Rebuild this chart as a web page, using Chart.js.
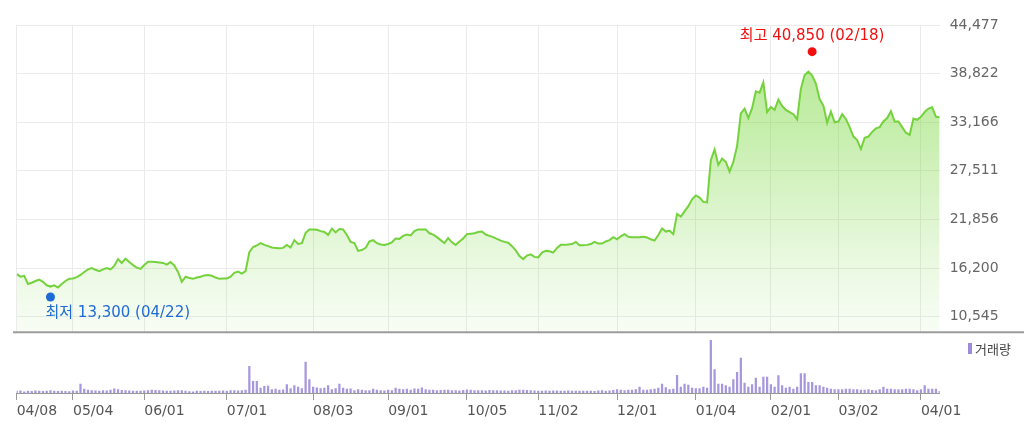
<!DOCTYPE html>
<html><head><meta charset="utf-8">
<script src="https://cdn.jsdelivr.net/npm/chart.js@4/dist/chart.umd.min.js"></script>
<style>
html,body{margin:0;padding:0;background:#fff;width:1024px;height:427px;overflow:hidden}
#price{position:absolute;left:0;top:0}
#vol{position:absolute;left:0;top:331px}
</style></head><body>
<canvas id="price" width="1024" height="334"></canvas>
<canvas id="vol" width="1024" height="96"></canvas>
<script>
// ---- data (trading-day index 0 = 04/08) ----
const closes = [
15500,15200,15300,14350,14500,14700,14850,14600,14200,14050,
14200,13950,14350,14700,14950,15000,15150,15400,15750,16050,
16200,16000,15850,16050,16200,16050,16450,17250,16800,17300,
16900,16550,16250,16100,16550,16950,16950,16900,16850,16800,
16600,16900,16500,15750,14600,15200,15050,14950,15100,15200,
15350,15400,15300,15100,14950,15000,15000,15200,15650,15800,
15550,15850,18050,18650,18850,19100,18900,18750,18600,18550,
18500,18550,18900,18600,19450,19000,19100,20300,20700,20700,
20650,20500,20400,20050,20800,20350,20750,20700,20050,19250,
19100,18200,18300,18550,19300,19450,19100,18950,18900,19000,
19200,19650,19600,19950,20100,20000,20500,20700,20700,20700,
20250,20100,19800,19450,19100,19700,19200,18900,19300,19650,
20150,20200,20250,20400,20450,20100,19950,19800,19600,19400,
19250,19150,18750,18250,17600,17250,17650,17800,17500,17450,
18000,18200,18150,18000,18550,18900,18900,18950,19000,19250,
18850,18850,18900,19000,19250,19050,19050,19300,19450,19800,
19550,19900,20150,19850,19800,19800,19800,19850,19750,19550,
19400,20050,20800,20450,20550,20150,22500,22200,22800,23400,
24200,24650,24400,23900,23850,28750,30000,28200,28950,28550,
27400,28550,30400,34200,34750,33650,34800,36750,36600,37800,
34350,34950,34600,35800,35050,34600,34350,34100,33500,37050,
38650,39050,38600,37650,35850,35100,33100,34400,33150,33250,
34100,33550,32600,31500,31100,30050,31350,31500,32050,32450,
32600,33250,33650,34450,33250,33250,32600,31950,31700,33600,
33450,33800,34350,34750,34900,33800,33750
];
const volumes = [
180,220,120,200,170,210,190,160,200,230,
180,170,200,160,150,210,200,900,400,300,
250,220,200,230,210,280,420,350,260,230,
210,180,200,190,220,250,300,260,230,210,
200,190,220,250,230,180,150,120,180,160,
190,170,200,180,190,210,200,230,250,220,
240,280,2670,1170,1170,500,670,700,350,380,
300,320,830,450,730,600,450,3100,1330,600,
520,430,480,730,350,430,900,500,380,420,
250,350,300,250,230,400,300,250,220,280,
250,500,400,350,380,300,420,380,520,350,
300,280,250,260,300,280,250,230,220,260,
320,280,250,240,230,220,260,240,230,220,
210,200,230,250,300,280,260,240,220,200,
190,210,200,220,210,190,200,210,180,200,
190,180,200,190,170,210,230,200,220,260,
350,300,250,280,300,350,600,300,280,350,
400,500,900,550,350,400,1770,600,900,800,
500,450,450,600,500,5270,2330,900,900,730,
600,1330,2070,3500,1000,600,830,1500,600,1600,
1600,830,600,1730,730,500,600,400,600,1930,
1930,1070,1070,730,730,600,500,400,330,330,
330,400,400,330,330,280,280,330,260,250,
330,600,400,400,330,330,330,400,400,330,
250,330,730,400,400,400,170
];
const monthTickIdx = [0,15,34,56,79,99,120,139,160,181,201,219,241];
const monthLabels = ['04/08','05/04','06/01','07/01','08/03','09/01','10/05','11/02','12/01','01/04','02/01','03/02','04/01'];
const priceTicks = [10545,16200,21856,27511,33166,38822,44477];
const highPoint = [212, 40850, '02/18'];
const lowPoint = [9, 13300, '04/22'];
const volumeLabel = '거래량';

const fmt = v => Number(v).toLocaleString('en-US');
const FONT = "'DejaVu Sans', 'Noto Sans CJK KR', sans-serif";
const lastIdx = closes.length - 1;

const fillGrad = (c) => {
  const ch = c.chart; const area = ch.chartArea;
  if (!area) return 'rgba(120,215,60,0.3)';
  const g = ch.ctx.createLinearGradient(0, area.top, 0, area.bottom);
  g.addColorStop(0, 'rgba(120,215,60,0.58)');
  g.addColorStop(0.35, 'rgba(120,215,60,0.42)');
  g.addColorStop(0.75, 'rgba(120,215,60,0.17)');
  g.addColorStop(1, 'rgba(120,215,60,0.05)');
  return g;
};

const extremesPlugin = {
  id: 'extremes',
  afterDatasetsDraw(chart) {
    const {ctx, scales: {x, y}, chartArea} = chart;
    ctx.save();
    // separator line under price panel
    ctx.strokeStyle = '#9c9c9c'; ctx.lineWidth = 2;
    ctx.beginPath(); ctx.moveTo(13, chartArea.bottom + 0.5); ctx.lineTo(chart.width, chartArea.bottom + 0.5); ctx.stroke();
    ctx.font = '15px ' + FONT; ctx.textBaseline = 'middle';
    // high
    const hx = x.getPixelForValue(highPoint[0]);
    const hy = y.getPixelForValue(highPoint[1]) - 4.5;
    ctx.fillStyle = '#f01010';
    ctx.beginPath(); ctx.arc(hx, hy, 4.5, 0, Math.PI * 2); ctx.fill();
    ctx.textAlign = 'center';
    ctx.fillText('최고 ' + fmt(highPoint[1]) + ' (' + highPoint[2] + ')', hx, hy - 16);
    // low
    const lx = x.getPixelForValue(lowPoint[0]);
    const ly = y.getPixelForValue(lowPoint[1]) + 4;
    ctx.fillStyle = '#1e6bd6';
    ctx.beginPath(); ctx.arc(lx, ly, 4.5, 0, Math.PI * 2); ctx.fill();
    ctx.textAlign = 'left';
    ctx.fillText('최저 ' + fmt(lowPoint[1]) + ' (' + lowPoint[2] + ')', lx - 5, ly + 16);
    ctx.restore();
  }
};

new Chart(document.getElementById('price'), {
  type: 'line',
  data: { datasets: [{
    data: closes.map((v, i) => ({x: i, y: v})),
    borderColor: '#74d23c', borderWidth: 2, pointRadius: 0, tension: 0,
    fill: 'start', backgroundColor: fillGrad
  }]},
  options: {
    responsive: false, animation: false, events: [],
    plugins: { legend: {display: false}, tooltip: {enabled: false} },
    layout: { padding: {left: 16.7, top: 25, right: 0, bottom: 2.3} },
    scales: {
      x: { type: 'linear', min: 0, max: lastIdx,
        afterBuildTicks: s => { s.ticks = monthTickIdx.map(v => ({value: v})); },
        ticks: {display: false}, grid: {color: '#ebebeb', drawTicks: false, lineWidth: 1},
        border: {display: false},
        afterFit: s => { s.height = 0; s.paddingLeft = 0; s.paddingRight = 0; } },
      y: { position: 'right', min: 8800, max: 44477,
        afterBuildTicks: s => { s.ticks = priceTicks.map(v => ({value: v})); },
        ticks: { padding: 10, color: '#666', font: {family: FONT, size: 14}, callback: v => fmt(v) },
        grid: {color: '#ebebeb', drawTicks: false}, border: {display: false},
        afterFit: s => { s.width = 84.3; s.paddingTop = 0; s.paddingBottom = 0; } }
    }
  },
  plugins: [extremesPlugin]
});

const volLegendPlugin = {
  id: 'volLegend',
  afterDraw(chart) {
    const ctx = chart.ctx; ctx.save();
    ctx.fillStyle = '#9d8ad8';
    ctx.fillRect(968, 12, 4, 11);
    ctx.fillStyle = '#444'; ctx.font = "13px 'Noto Sans CJK KR', sans-serif";
    ctx.textBaseline = 'middle'; ctx.textAlign = 'left';
    ctx.fillText(volumeLabel, 975, 18.5);
    ctx.restore();
  }
};

new Chart(document.getElementById('vol'), {
  type: 'bar',
  data: { datasets: [{
    data: volumes.map((v, i) => ({x: i, y: v})),
    backgroundColor: '#a797dc', barThickness: 1.6, borderWidth: 0
  }]},
  options: {
    responsive: false, animation: false, events: [],
    plugins: { legend: {display: false}, tooltip: {enabled: false} },
    layout: { padding: {left: 16.7, right: 84.3, top: 9, bottom: 0} },
    scales: {
      x: { type: 'linear', min: 0, max: lastIdx, offset: false,
        afterBuildTicks: s => { s.ticks = monthTickIdx.map(v => ({value: v})); },
        ticks: { align: 'start', padding: 3, color: '#555', font: {family: FONT, size: 14},
          autoSkip: false, maxRotation: 0, callback: (v, i) => monthLabels[i] },
        grid: { drawOnChartArea: false, tickLength: 7, color: '#999', offset: false },
        border: { display: true, color: '#999', width: 1 },
        afterFit: s => { s.height = 34; } },
      y: { display: false, min: 0, max: 5300 }
    }
  },
  plugins: [volLegendPlugin]
});
</script>
</body></html>
